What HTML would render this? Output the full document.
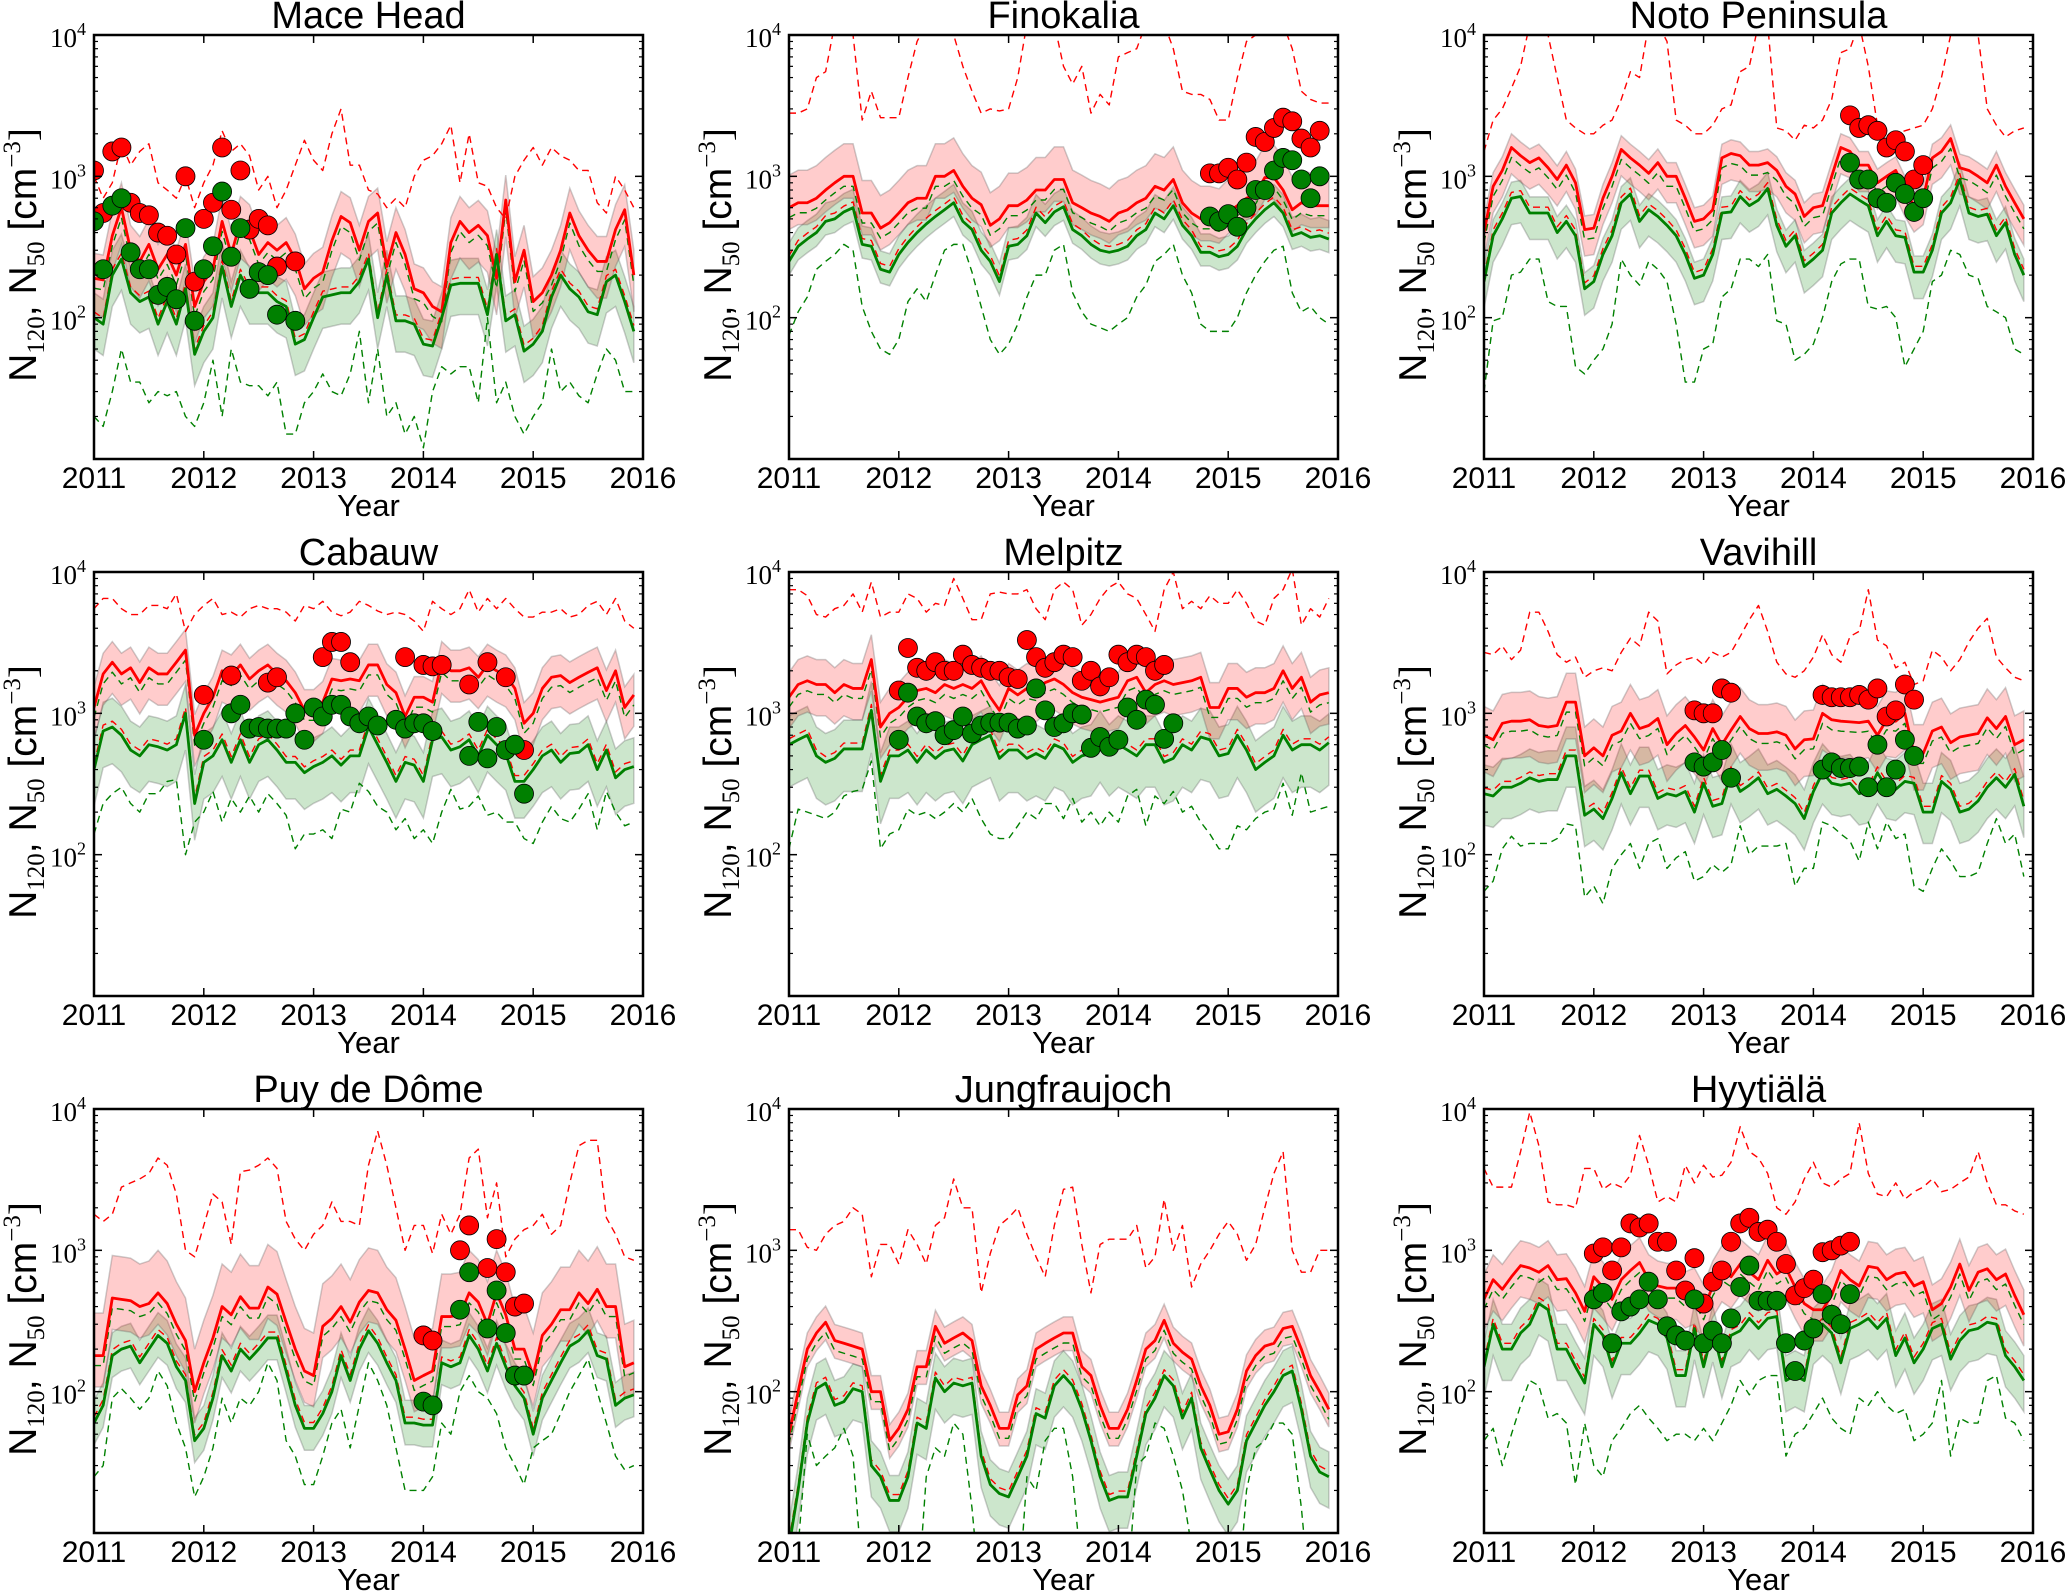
<!DOCTYPE html>
<html><head><meta charset="utf-8"><style>
body{margin:0;background:#fff}
svg{display:block}
text{font-family:"Liberation Sans",sans-serif}
.ser{font-family:"Liberation Serif",serif}
</style></head><body>
<svg id="fig" width="2067" height="1593" viewBox="0 0 2067 1593" xmlns="http://www.w3.org/2000/svg"></svg>
<script>
// ---- Mace Head ----
const maceRMed=[190,185,380,600,300,250,330,220,280,200,330,120, 180,220,480,280,480,420,280,340,300,340,260,160, 190,210,350,520,470,300,480,550,230,400,280,160, 150,120,110,340,480,400,450,380,190,680,180,300, 130,150,200,300,550,380,300,250,250,420,580,200];
const maceGMed=[100,90,200,260,150,130,140,90,130,90,160,55, 80,100,230,120,200,150,150,150,130,120,65,70, 100,140,145,150,150,180,260,100,200,95,95,90, 65,63,100,170,175,175,175,105,280,95,105,58, 65,80,140,200,160,140,110,105,180,200,130,80];
const maceRHi=[1000,700,900,1700,1200,1500,1700,900,800,700,1000,600, 900,1200,2100,1500,1700,1400,800,1000,600,800,1200,1800, 1300,1100,2000,3000,1200,1200,800,750,600,700,600,1000, 1300,1400,1700,2300,900,2000,900,850,600,500,1000,1300, 1600,1200,1600,1400,1300,1100,1100,650,550,1000,800,600];
const maceGLo=[20,17,30,60,35,35,25,30,28,30,20,17, 25,50,20,60,35,33,33,28,35,15,15,25, 30,40,30,28,40,80,25,60,20,25,15,20, 12,30,45,40,45,45,25,100,25,35,20,15, 20,25,60,30,35,28,25,40,60,50,30,30];
const maceRDotIdx=[0,1,2,3,4,5,6,7,8,9,10,11,12,13,14,15,16,17,18,19,20,22];
const maceRDotVal=[1100,550,1500,1600,650,550,530,400,380,280,1000,180,500,650,1600,580,1100,420,500,450,230,250];
const maceGDotIdx=[0,1,2,3,4,5,6,7,8,9,10,11,12,13,14,15,16,17,18,19,20,22];
const maceGDotVal=[480,220,620,700,290,220,220,145,165,135,430,95,220,320,780,270,430,160,210,200,105,95];
// ---- Finokalia ----
const finoRMed=[600,650,650,700,800,900,1000,1000,550,550,430,470, 550,650,700,700,1000,1000,1100,850,700,630,450,500, 620,620,680,800,800,950,950,650,600,550,520,480, 550,580,650,700,850,800,950,650,550,500,500,480, 560,620,700,750,980,980,800,580,650,620,620,620];
const finoGMed=[250,320,360,400,480,500,560,600,330,320,220,210, 280,340,400,460,520,580,650,480,420,300,250,180, 320,330,380,550,470,560,610,420,380,330,300,290, 300,320,380,420,550,500,620,450,380,290,290,270, 280,320,420,500,580,650,550,380,400,370,380,360];
const finoRHi=[2800,2800,3000,5000,5500,12000,12000,10000,2500,4000,2600,2600, 2600,5000,9000,12000,12000,12000,10000,6000,4000,2800,3000,2900, 3000,5000,12000,12000,12000,12000,6000,4500,6000,2800,3800,3200, 7000,7500,8000,12000,12000,12000,8000,4000,3800,3800,3500,2500, 2500,5000,9000,10000,12000,12000,12000,8000,4000,3500,3300,3300];
const finoGLo=[75,110,140,220,250,280,330,300,120,80,60,55, 70,130,160,130,200,300,330,330,210,120,70,55, 65,90,140,200,200,300,330,150,110,90,85,80, 90,100,140,170,250,280,330,200,150,90,80,80, 80,100,150,200,250,300,320,150,110,120,100,90];
const finoRDotIdx=[46,47,48,49,50,51,52,53,54,55,56,57,58];
const finoRDotVal=[1050,1050,1150,950,1250,1900,1750,2200,2600,2450,1850,1600,2100];
const finoGDotIdx=[46,47,48,49,50,51,52,53,54,55,56,57,58];
const finoGDotVal=[520,480,540,440,600,800,800,1100,1350,1300,950,700,1000];
// ---- Noto Peninsula ----
const notoRMed=[400,850,1100,1600,1400,1250,1350,1150,950,1200,900,420, 430,700,1000,1550,1350,1200,1050,1250,1000,1000,700,480, 500,580,1350,1450,1400,1200,1200,1250,1100,850,750,520, 600,620,1000,1600,1500,1200,1200,900,1000,1100,800,620, 700,1350,1500,1850,1150,1100,1000,900,1200,850,650,500];
const notoGMed=[180,380,500,700,720,550,550,550,400,480,380,160, 180,280,380,650,750,480,580,520,450,380,280,190, 200,280,550,560,720,620,680,820,450,320,380,230, 260,300,550,650,750,680,620,380,480,380,370,210, 210,300,550,650,950,550,520,540,380,470,280,200];
const notoRHi=[1500,2500,3000,4200,6000,12000,12000,10000,5000,2500,2200,2000, 2000,2300,2500,3500,5500,5000,12000,12000,9000,2500,2300,2000, 2000,2300,3000,3200,5500,6000,12000,12000,2200,2100,1800,2300, 2200,2500,3500,7500,8000,12000,6000,2300,2100,2000,2100,2200, 2300,3000,5000,10000,10000,12000,10000,3000,2300,1900,2100,2200];
const notoGLo=[30,95,100,200,210,260,260,130,120,120,45,40, 50,60,90,260,200,170,250,220,180,90,35,35, 60,65,140,160,260,260,230,280,95,90,50,55, 65,100,180,240,260,260,120,115,120,100,45,60, 80,180,200,300,280,200,190,120,110,100,60,55];
const notoRDotIdx=[40,41,42,43,44,45,46,47,48];
const notoRDotVal=[2700,2200,2300,2100,1600,1800,1500,950,1200];
const notoGDotIdx=[40,41,42,43,44,45,46,47,48];
const notoGDotVal=[1250,950,950,700,650,900,750,560,700];
// ---- Cabauw ----
const cabRMed=[1100,1900,2300,1900,2100,1650,2100,1900,1900,2300,2800,700, 1000,1300,2000,1850,2200,1750,2000,2200,1900,1700,1400,1050, 1050,1200,1750,1700,1750,1700,2200,2200,1600,1400,950,1300, 1300,1200,2300,2000,2000,2100,1800,2200,2000,1850,1500,850, 1000,1500,1800,1850,1650,1800,1950,2100,1450,2000,1100,1350];
const cabGMed=[400,750,800,700,550,500,600,580,550,600,1000,230, 450,500,650,450,650,450,600,650,550,450,450,380, 420,450,500,430,500,500,800,600,450,330,450,430, 330,650,680,550,580,650,500,700,600,520,330,330, 400,500,550,450,520,530,600,400,550,350,400,420];
const cabRHi=[5500,6500,6500,5500,5000,5000,5800,5800,5500,7000,3800,5000, 5800,6500,5000,5200,4800,5500,5800,5500,5500,5200,4500,5800, 5500,6200,5200,4900,5200,6200,5800,5300,5000,5200,5000,4500, 3800,6200,5500,5000,5500,7500,5200,6500,5500,6500,5500,4800, 4800,5200,5200,5500,4800,5000,5800,6200,5000,6500,4500,4000];
const cabGLo=[140,230,270,300,230,200,270,270,330,340,100,170, 200,280,170,250,200,260,200,270,230,190,110,140, 140,150,130,210,200,320,280,220,200,150,180,130, 150,120,200,290,210,220,260,190,200,170,170,130, 120,170,220,180,170,210,270,150,280,200,160,170];
const cabRDotIdx=[12,15,19,20,25,26,27,28,34,36,37,38,41,43,45,47];
const cabRDotVal=[1350,1850,1650,1800,2500,3200,3200,2300,2500,2200,2150,2200,1600,2300,1800,550];
const cabGDotIdx=[12,15,16,17,18,19,20,21,22,23,24,25,26,27,28,29,30,31,33,34,35,36,37,41,42,43,44,45,46,47];
const cabGDotVal=[650,1000,1150,780,800,780,780,780,1000,650,1100,950,1150,1150,950,850,950,820,900,780,850,850,750,500,870,480,800,550,600,270];
// ---- Melpitz ----
const melRMed=[1300,1600,1700,1600,1600,1400,1600,1500,1500,2400,800,1000, 1100,1300,1450,1500,1400,1600,1500,1600,1500,1700,1300,1050, 1500,1350,1500,1450,1650,1750,1600,1400,1300,1250,1200,1250, 1300,1700,1800,1400,1600,1700,1600,1650,1700,1800,1100,1100, 1500,1500,1300,1400,1400,1500,2000,1500,1800,1200,1350,1400];
const melGMed=[600,650,700,500,450,480,560,560,560,1050,330,500, 500,550,450,550,480,540,560,460,600,650,700,480, 550,550,480,520,480,600,560,450,500,520,650,520, 600,550,500,600,600,450,480,600,550,680,650,500, 520,700,550,400,450,500,700,550,600,600,550,620];
const melRHi=[7500,7500,6800,5000,4800,5500,5800,7000,5200,8500,4800,5200, 5200,7000,6500,5200,6000,5800,9000,6500,4600,4600,7000,7200, 7000,7000,7500,5500,4600,7500,8500,7500,4200,5000,6500,7800, 8500,7000,6500,5000,3800,7500,10000,5500,6200,5500,6800,6000, 6000,7500,6000,4500,4200,6500,7500,10500,4200,5500,4800,6500];
const melGLo=[110,210,200,190,180,200,260,280,290,460,110,140, 150,210,190,200,180,200,230,200,250,180,140,130, 130,160,200,180,230,230,180,250,170,200,160,200, 170,260,290,160,260,230,280,200,220,170,140,110, 110,160,150,180,200,210,320,190,380,200,210,220];
const melRDotIdx=[12,13,14,15,16,17,18,19,20,21,22,23,24,25,26,27,28,29,30,31,32,33,34,35,36,37,38,39,40,41];
const melRDotVal=[1450,2900,2100,2000,2300,2000,2000,2600,2200,2100,2000,2000,1800,1750,3300,2500,2100,2300,2600,2500,1700,2000,1550,1800,2600,2300,2600,2500,2000,2200];
const melGDotIdx=[12,13,14,15,16,17,18,19,20,21,22,23,24,25,26,27,28,29,30,31,32,33,34,35,36,37,38,39,40,41,42];
const melGDotVal=[650,1400,950,850,880,700,760,950,720,820,860,860,860,780,820,1500,1050,800,850,1000,980,570,680,580,650,1100,900,1250,1150,660,850];
// ---- Vavihill ----
const vavRMed=[700,650,850,880,880,900,820,800,820,1200,1200,500, 570,500,700,750,1000,780,820,920,600,720,820,680, 550,780,600,760,950,780,720,720,740,700,560,650, 660,1000,900,880,870,860,880,700,900,880,1000,520, 520,750,800,620,680,700,720,930,780,950,600,650];
const vavGMed=[270,260,300,300,320,350,330,340,340,500,500,190, 210,180,250,380,270,360,360,250,270,260,280,200, 320,220,230,380,280,310,350,270,290,260,230,180, 280,380,320,310,320,270,280,380,300,290,330,320, 200,200,330,290,200,210,240,300,350,300,370,220];
const vavRHi=[2700,2600,3000,2400,2800,5200,5200,3800,2600,2300,2500,1800, 2000,2100,2000,2700,3400,3000,5200,4500,1900,2200,2400,2500, 2200,2700,2500,2700,3500,4600,5800,3800,2300,1900,1800,2000, 2500,3600,2600,2300,3500,3800,7500,3300,3000,2100,2300,1600, 1700,2800,2500,2000,2400,3200,4000,4700,2500,2100,1800,1700];
const vavGLo=[55,65,110,135,115,120,120,120,130,165,160,50, 60,45,80,100,120,80,120,130,80,95,105,65, 70,85,75,85,160,100,115,115,115,120,60,80, 80,170,160,140,125,90,170,110,170,130,140,60, 55,80,110,90,70,70,75,120,180,120,140,70];
const vavRDotIdx=[23,24,25,26,27,37,38,39,40,41,42,43,44,45,46,47];
const vavRDotVal=[1050,1000,1000,1500,1400,1350,1300,1300,1300,1350,1250,1500,950,1050,1600,1250];
const vavGDotIdx=[23,24,25,26,27,37,38,39,40,41,42,43,44,45,46,47];
const vavGDotVal=[450,420,450,550,350,400,450,410,410,420,300,600,300,400,650,500];
// ---- Puy de Dome ----
const puyRMed=[180,180,460,450,440,400,420,500,420,300,230,100, 160,240,400,350,470,390,390,550,490,310,200,140, 130,290,330,400,310,430,520,500,380,320,200,120, 130,140,340,340,350,500,430,300,500,350,200,200, 130,250,300,380,380,500,420,530,400,400,150,160];
const puyGMed=[60,80,180,200,210,160,200,250,220,150,120,45, 55,90,180,140,200,170,200,240,240,140,80,55, 55,70,100,180,120,200,270,220,160,120,60,60, 58,58,160,150,160,250,200,140,220,150,110,90, 50,90,120,160,210,230,270,180,170,80,90,95];
const puyRHi=[1800,1600,1800,2800,3000,3200,3500,4500,4000,2500,1000,900, 1500,2500,2200,1100,3600,3700,4000,4500,3800,1600,1200,1000, 1300,1500,2200,1600,1600,1500,4000,7000,4000,2000,1000,1500, 1500,950,1800,1300,1800,4500,5200,1700,3000,900,1200,1400, 1500,1800,1300,1500,3000,5500,6000,6000,1700,1300,900,850];
const puyGLo=[25,30,90,105,90,75,90,140,110,60,40,18, 25,40,90,60,90,80,100,160,120,45,35,22, 22,35,60,75,40,80,160,120,80,40,20,20, 20,25,60,50,100,130,100,90,70,40,30,22, 40,45,50,70,100,130,170,100,60,35,28,30];
const puyRDotIdx=[36,37,40,41,43,44,45,46,47];
const puyRDotVal=[250,230,1000,1500,750,1200,700,400,420];
const puyGDotIdx=[36,37,40,41,43,44,45,46,47];
const puyGDotVal=[85,80,380,700,280,520,260,130,130];
// ---- Jungfraujoch ----
const jfjRMed=[50,100,200,260,310,230,220,210,200,100,100,45, 55,75,150,150,290,220,240,260,230,110,80,55, 55,95,110,200,220,240,260,260,150,130,80,55, 55,75,120,200,230,320,220,190,170,110,80,50, 52,75,140,180,210,220,280,290,200,130,100,75];
const jfjGMed=[8,20,60,105,115,80,85,105,100,30,25,17, 17,25,60,55,125,100,115,110,115,35,22,19, 18,25,35,70,65,110,130,110,75,45,25,17, 18,18,35,70,90,130,110,65,90,40,28,20, 16,20,45,60,80,100,130,140,75,35,27,25];
const jfjRHi=[1400,1400,1050,1000,1300,1500,1600,2000,1800,650,1100,1100, 800,1400,1100,800,1500,1700,3200,2000,2000,500,950,1500, 1700,2000,1300,900,650,1500,2700,2800,1100,500,1100,1200, 1200,1200,1500,750,900,2300,1000,1500,550,800,1000,1300, 1600,1300,850,1100,2000,3500,5000,1000,700,700,1000,1000];
const jfjGLo=[3,8,50,30,35,40,55,35,5,4,3,3, 3,3,3,25,40,35,60,50,15,3,3,3, 3,3,25,20,45,55,55,25,5,3,3,3, 3,4,30,35,60,55,35,20,8,3,3,3, 3,3,20,40,45,60,60,50,15,3,3,3];
const jfjRDotIdx=[], jfjRDotVal=[], jfjGDotIdx=[], jfjGDotVal=[];
// ---- Hyytiala ----
const hyyRMed=[450,620,530,650,780,750,700,780,620,630,500,370, 650,550,450,620,720,820,620,560,540,540,470,500, 380,560,720,650,800,700,620,850,680,750,550,420, 380,380,480,720,620,560,770,750,620,680,700,560, 600,380,420,550,800,520,700,740,620,680,480,350];
const hyyGMed=[150,300,200,200,260,300,420,380,200,200,150,115, 300,250,150,220,220,260,320,300,240,130,130,280, 150,270,150,250,270,330,280,330,340,120,130,120, 260,300,260,160,280,300,330,280,330,180,240,160, 200,280,300,170,230,270,280,310,300,180,150,120];
const hyyRHi=[3800,2800,2800,2800,5000,9500,5500,2200,2100,2100,2000,3800, 3800,2700,3000,2800,3400,6500,4000,2200,2400,2200,4000,3000, 4000,3300,3400,4200,7500,5000,4500,3500,2000,1800,2200,3200, 4200,3000,2800,3200,3500,8000,3500,2500,2400,3000,2300,2600, 2800,3200,2600,2700,3000,3300,5000,3000,2100,2100,1900,1800];
const hyyGLo=[45,55,30,50,80,120,110,65,70,60,22,60, 30,25,45,55,70,80,65,55,45,50,50,45, 55,45,60,80,120,95,120,130,130,35,50,55, 70,90,65,55,50,90,80,100,80,70,75,45, 50,60,120,35,65,60,60,120,130,65,60,45];
const hyyRDotIdx=[12,13,14,15,16,17,18,19,20,21,22,23,24,25,26,27,28,29,30,31,32,33,34,35,36,37,38,39,40];
const hyyRDotVal=[950,1050,720,1050,1550,1450,1550,1150,1150,720,520,880,420,600,720,1150,1550,1700,1350,1400,1150,800,480,540,620,970,1000,1080,1150];
const hyyGDotIdx=[12,13,14,15,16,17,18,19,20,21,22,23,24,25,26,27,28,29,30,31,32,33,34,35,36,37,38,39,40];
const hyyGDotVal=[450,500,220,370,400,450,600,450,290,250,230,450,220,270,220,330,550,780,440,440,440,220,140,230,280,490,350,300,490];

const titles=["Mace Head","Finokalia","Noto Peninsula","Cabauw","Melpitz","Vavihill","Puy de Dôme","Jungfraujoch","Hyytiälä"];
const xTickLabels=["2011","2012","2013","2014","2015","2016"];
const yTickExps=[1,2,3,4];

const panels=[
 [maceRMed,maceGMed,maceRHi,maceGLo,maceRDotIdx,maceRDotVal,maceGDotIdx,maceGDotVal,[1.5,0.55,1.5,0.6]],
 [finoRMed,finoGMed,finoRHi,finoGLo,finoRDotIdx,finoRDotVal,finoGDotIdx,finoGDotVal,[1.7,0.7,1.35,0.8]],
 [notoRMed,notoGMed,notoRHi,notoGLo,notoRDotIdx,notoRDotVal,notoGDotIdx,notoGDotVal,[1.25,0.65,1.3,0.65]],
 [cabRMed,cabGMed,cabRHi,cabGLo,cabRDotIdx,cabRDotVal,cabGDotIdx,cabGDotVal,[1.4,0.6,1.6,0.55]],
 [melRMed,melGMed,melRHi,melGLo,melRDotIdx,melRDotVal,melGDotIdx,melGDotVal,[1.5,0.6,1.6,0.5]],
 [vavRMed,vavGMed,vavRHi,vavGLo,vavRDotIdx,vavRDotVal,vavGDotIdx,vavGDotVal,[1.6,0.55,1.6,0.6]],
 [puyRMed,puyGMed,puyRHi,puyGLo,puyRDotIdx,puyRDotVal,puyGDotIdx,puyGDotVal,[2.0,0.6,1.45,0.7]],
 [jfjRMed,jfjGMed,jfjRHi,jfjGLo,jfjRDotIdx,jfjRDotVal,jfjGDotIdx,jfjGDotVal,[1.3,0.75,1.5,0.6]],
 [hyyRMed,hyyGMed,hyyRHi,hyyGLo,hyyRDotIdx,hyyRDotVal,hyyGDotIdx,hyyGDotVal,[1.5,0.6,1.5,0.6]]
];

const NS="http://www.w3.org/2000/svg";
const svg=document.getElementById('fig');
const X0=[94,789,1484], Y0=[35,572,1109], W=549, H=424;
function mk(tag,attrs,parent){const e=document.createElementNS(NS,tag);for(const k in attrs)e.setAttribute(k,attrs[k]);(parent||svg).appendChild(e);return e;}
const defs=mk('defs',{});

panels.forEach((p,pi)=>{
 const x0=X0[pi%3], y0=Y0[Math.floor(pi/3)];
 const g=mk('g',{});
 
 
 const xs=i=>x0+(i/12)/5*W;
 const ys=v=>y0+H*(4-Math.log10(Math.max(v,1e-3)))/3;
 const cp=mk('clipPath',{id:'cp'+pi},defs);
 mk('rect',{x:x0,y:y0,width:W,height:H},cp);
 const pg=mk('g',{'clip-path':'url(#cp'+pi+')'},g);
 
 
 const [rMed,gMed,rHi,gLo,rdi,rdv,gdi,gdv,f]=p;
 function band(arr,fu,fl,fill,name){
  let pts=arr.map((v,i)=>xs(i)+','+ys(v*fu));
  for(let i=arr.length-1;i>=0;i--)pts.push(xs(i)+','+ys(arr[i]*fl));
  const e=mk('polygon',{points:pts.join(' '),fill:fill,stroke:'rgba(90,90,90,0.3)','stroke-width':1.5},pg);
  
  
 }
 function line(arr,mul,col,w,dash,name){
  const e=mk('polyline',{points:arr.map((v,i)=>xs(i)+','+ys(v*mul)).join(' '),fill:'none',stroke:col,'stroke-width':w,'stroke-dasharray':dash||'none','stroke-linejoin':'round'},pg);
  
  
 }
 band(gMed,f[2],f[3],'rgba(0,128,0,0.2)','n120-iqr-band');
 band(rMed,f[0],f[1],'rgba(255,0,0,0.2)','n50-iqr-band');
 line(rHi,1,'#ff0000',1.4,'7,5','n50-p95-dashed');
 line(gMed,1.1,'#ff0000',1.4,'7,5','n50-p5-dashed');
 line(rMed,0.85,'#008000',1.4,'7,5','n120-p95-dashed');
 line(gLo,1,'#008000',1.4,'7,5','n120-p5-dashed');
 line(rMed,1,'#ff0000',2.8,null,'n50-median-line');
 line(gMed,1,'#008000',2.8,null,'n120-median-line');
 rdi.forEach((ix,k)=>{const c=mk('circle',{cx:xs(ix),cy:ys(rdv[k]),r:9.5,fill:'#ff0000',stroke:'#000','stroke-width':0.8},pg);
  
  });
 gdi.forEach((ix,k)=>{const c=mk('circle',{cx:xs(ix),cy:ys(gdv[k]),r:9.5,fill:'#008000',stroke:'#000','stroke-width':0.8},pg);
  
  });
 const fr=mk('rect',{x:x0,y:y0,width:W,height:H,fill:'none',stroke:'#000','stroke-width':2.5},g);
 
 
 xTickLabels.forEach((lab,k)=>{
  const xx=x0+k*W/5;
  mk('line',{x1:xx,y1:y0+H,x2:xx,y2:y0+H-8,stroke:'#000','stroke-width':1.5},g);
  mk('line',{x1:xx,y1:y0,x2:xx,y2:y0+8,stroke:'#000','stroke-width':1.5},g);
  const t=mk('text',{x:xx,y:y0+H+29,'text-anchor':'middle','font-size':30},g);
  t.textContent=lab;
  
  
 });
 yTickExps.forEach(e=>{
  const yy=ys(Math.pow(10,e));
  mk('line',{x1:x0,y1:yy,x2:x0+8,y2:yy,stroke:'#000','stroke-width':1.5},g);
  mk('line',{x1:x0+W,y1:yy,x2:x0+W-8,y2:yy,stroke:'#000','stroke-width':1.5},g);
  if(e<4){for(let m=2;m<=9;m++){const ym=ys(m*Math.pow(10,e));
   mk('line',{x1:x0,y1:ym,x2:x0+4,y2:ym,stroke:'#000','stroke-width':1.2},g);
   mk('line',{x1:x0+W,y1:ym,x2:x0+W-4,y2:ym,stroke:'#000','stroke-width':1.2},g);}}
  if(e>1){
   const t=mk('text',{x:x0-8,y:yy+12,'text-anchor':'end','font-size':27,'class':'ser'},g);
   
   
   const a=mk('tspan',{},t);a.textContent='10';
   const b=mk('tspan',{dy:-12,'font-size':18},t);b.textContent=String(e);
  }
 });
 const tt=mk('text',{x:x0+W/2,y:y0-7,'text-anchor':'middle','font-size':38},g);
 tt.textContent=titles[pi];
 
 
 const xl=mk('text',{x:x0+W/2,y:y0+H+57,'text-anchor':'middle','font-size':31},g);
 xl.textContent='Year';
 
 
 const yl=mk('text',{transform:'translate('+(x0-58)+','+(y0+H/2+8)+') rotate(-90)','text-anchor':'middle','font-size':39},g);
 
 
 const parts=[['N',0,39],['120',8,25],[', N',-8,39],['50',8,25],[' [cm',-8,39],['−3',-16,25],[']',16,39]];
 parts.forEach(([s,dy,fs])=>{const ts=mk('tspan',{dy:dy,'font-size':fs},yl);ts.textContent=s;
  if(fs===25||s===']'){ts.setAttribute('class','ser');}});
});
</script>
</body></html>
